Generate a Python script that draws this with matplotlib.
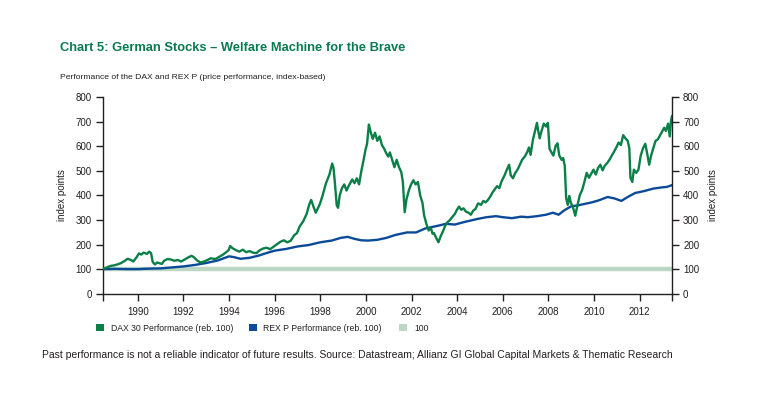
import matplotlib.pyplot as plt
from matplotlib.patches import Patch

plt.rcParams['font.family'] = ['Liberation Sans Narrow', 'Liberation Sans', 'DejaVu Sans']

# DAX 30 performance (rebased to 100)
dax_year = [1988.50, 1988.65, 1988.80, 1988.95, 1989.10, 1989.25, 1989.40, 1989.55, 1989.70, 1989.80,
            1989.95, 1990.05, 1990.15, 1990.25, 1990.40, 1990.50, 1990.58, 1990.65, 1990.75, 1990.85,
            1990.95, 1991.05, 1991.15, 1991.30, 1991.45, 1991.60, 1991.75, 1991.90, 1992.05, 1992.20,
            1992.35, 1992.45, 1992.60, 1992.75, 1992.90, 1993.05, 1993.20, 1993.40, 1993.55, 1993.70,
            1993.85, 1993.98, 1994.05, 1994.15, 1994.30, 1994.45, 1994.60, 1994.75, 1994.90, 1995.05,
            1995.20, 1995.35, 1995.50, 1995.65, 1995.80, 1995.95, 1996.10, 1996.25, 1996.40, 1996.55,
            1996.70, 1996.85, 1996.98, 1997.10, 1997.25, 1997.40, 1997.52, 1997.60, 1997.70, 1997.80,
            1997.90, 1997.98, 1998.10, 1998.25, 1998.40, 1998.52, 1998.58, 1998.65, 1998.72, 1998.78,
            1998.85, 1998.95, 1999.05, 1999.15, 1999.25, 1999.40, 1999.50, 1999.60, 1999.70, 1999.80,
            1999.90, 1999.98, 2000.05, 2000.13, 2000.20, 2000.30, 2000.40, 2000.50, 2000.60, 2000.70,
            2000.80, 2000.90, 2000.98, 2001.05, 2001.15, 2001.25, 2001.35, 2001.45, 2001.55, 2001.62,
            2001.70, 2001.78, 2001.88, 2001.98, 2002.08, 2002.18, 2002.28, 2002.38, 2002.48, 2002.55,
            2002.65, 2002.75, 2002.85, 2002.92, 2002.98, 2003.08, 2003.18, 2003.28, 2003.38, 2003.48,
            2003.58, 2003.68, 2003.78, 2003.90, 2003.98, 2004.08, 2004.18, 2004.28, 2004.38, 2004.50,
            2004.60, 2004.70, 2004.80, 2004.92, 2005.05, 2005.15, 2005.25, 2005.35, 2005.45, 2005.55,
            2005.65, 2005.75, 2005.85, 2005.95, 2006.08, 2006.18, 2006.28, 2006.35, 2006.45, 2006.55,
            2006.65, 2006.75, 2006.85, 2006.98, 2007.08, 2007.15, 2007.22, 2007.32, 2007.42, 2007.50,
            2007.55, 2007.62, 2007.70, 2007.80, 2007.90, 2007.98, 2008.05, 2008.12, 2008.22, 2008.32,
            2008.40, 2008.48, 2008.58, 2008.65, 2008.72, 2008.78, 2008.85, 2008.92, 2008.98, 2009.08,
            2009.18, 2009.28, 2009.38, 2009.48, 2009.58, 2009.68, 2009.78, 2009.90, 2009.98, 2010.08,
            2010.18, 2010.28, 2010.38, 2010.48, 2010.58, 2010.68, 2010.78, 2010.88, 2010.98, 2011.08,
            2011.18, 2011.28, 2011.38, 2011.48, 2011.55, 2011.60, 2011.68, 2011.75, 2011.85, 2011.95,
            2012.05, 2012.15, 2012.25, 2012.35, 2012.42, 2012.50, 2012.60, 2012.70, 2012.80, 2012.90,
            2012.98, 2013.08, 2013.15, 2013.25, 2013.32, 2013.38, 2013.42]
dax_val = [103, 108, 114, 116, 120, 125, 133, 143, 138, 132,
           150, 165, 160, 168, 163, 172, 166, 130, 120, 128,
           125, 122, 135, 142, 140, 135, 138, 132, 140, 148,
           155, 150, 136, 128, 132, 138, 145, 142, 150, 158,
           168, 178, 195, 186, 178, 172, 180, 170, 174, 168,
           166, 178, 185, 188, 182, 192, 202, 212, 218, 210,
           216, 238, 248, 275, 295, 325, 365, 382, 355, 330,
           350, 365, 400, 450, 485, 530, 512, 440, 360, 350,
           400, 430, 445, 420, 440, 465, 450, 470, 445, 500,
           545, 585, 610, 688, 660, 630, 655, 622, 640, 605,
           590, 570, 558, 575, 545, 515, 545, 515, 495, 455,
           332, 385, 420, 445, 462, 445, 455, 400, 370, 320,
           285, 258, 268, 245, 248, 228, 210, 235, 255, 278,
           292, 300, 312, 325, 340, 355, 342, 348, 335, 330,
           322, 338, 345, 368, 362, 378, 372, 382, 395, 412,
           425, 438, 430, 458, 482, 505, 525, 482, 470, 492,
           505, 525, 545, 560, 578, 595, 565, 625, 665, 695,
           665, 632, 662, 692, 680, 695, 590, 578, 562, 602,
           612, 562, 545, 552, 520, 390, 362, 398, 372, 352,
           318, 362, 402, 422, 455, 492, 472, 492, 505, 485,
           512, 525, 502, 522, 532, 545, 562, 578, 595, 615,
           605, 645, 632, 622, 592, 472, 455, 505, 492, 505,
           562, 592, 610, 562, 525, 560, 592, 622, 628, 645,
           658, 675, 662, 692, 640, 705, 722]

# REX P performance (rebased to 100)
rex_year = [1988.50, 1989.00, 1989.50, 1990.00, 1990.50, 1991.00, 1991.50, 1992.00, 1992.50, 1993.00,
            1993.50, 1994.00, 1994.20, 1994.50, 1994.90, 1995.30, 1995.70, 1996.00, 1996.50, 1997.00,
            1997.50, 1998.00, 1998.50, 1998.90, 1999.20, 1999.50, 1999.80, 2000.10, 2000.50, 2000.90,
            2001.30, 2001.80, 2002.20, 2002.60, 2003.20, 2003.50, 2003.90, 2004.30, 2004.90, 2005.30,
            2005.70, 2006.00, 2006.40, 2006.80, 2007.10, 2007.50, 2007.90, 2008.20, 2008.45, 2008.70,
            2009.00, 2009.30, 2009.60, 2009.90, 2010.20, 2010.60, 2010.90, 2011.20, 2011.50, 2011.80,
            2012.20, 2012.60, 2012.90, 2013.20, 2013.42]
rex_val = [101, 102, 101, 101, 103, 104, 108, 112, 118, 126,
           136, 153, 150, 143, 147, 156, 168, 176, 183, 193,
           199, 210, 217, 228, 232, 224, 218, 217, 220, 228,
           240, 250, 250, 266, 278, 285, 282, 292, 305, 312,
           316, 312, 308, 314, 312, 316, 322, 330, 322, 340,
           356, 360, 366, 372, 380, 394, 388, 378, 395, 410,
           418, 428, 432, 435, 442]

# reference line at 100
ref_year = [1988.47, 2013.42]
ref_val = [100, 100]

x_ticks = [1990, 1992, 1994, 1996, 1998, 2000, 2002, 2004, 2006, 2008, 2010, 2012]
y_ticks = [0, 100, 200, 300, 400, 500, 600, 700, 800]

GREEN = '#0b7f48'
BLUE = '#0a4a98'
LIGHT = '#bcd8c4'
TXT = '#231f20'

fig = plt.figure(figsize=(7.73, 3.93), dpi=100)
ax = fig.add_axes([0.1332, 0.2519, 0.7361, 0.5013])

ax.plot(ref_year, ref_val, color=LIGHT, lw=3.2, solid_capstyle='butt', zorder=1)
ax.plot(rex_year, rex_val, color=BLUE, lw=1.7, zorder=2)
ax.plot(dax_year, dax_val, color=GREEN, lw=1.7, zorder=3)

ax.set_xlim(1988.47, 2013.42)
ax.set_ylim(0, 800)
ax.set_xticks(x_ticks)
ax.set_xticks([1988.47, 2013.42], minor=True)
ax.set_yticks(y_ticks)
ax.tick_params(axis='x', which='both', direction='out', length=5, width=1, colors=TXT,
               labelsize=7, pad=4)
ax.tick_params(axis='y', direction='out', length=5, width=1, colors=TXT, labelsize=7, pad=3)
for s in ['top', 'right']:
    ax.spines[s].set_visible(False)
for s in ['left', 'bottom']:
    ax.spines[s].set_linewidth(1)
    ax.spines[s].set_color(TXT)
ax.set_ylabel('index points', fontsize=7, color=TXT, labelpad=6)

ax2 = ax.twinx()
ax2.set_ylim(0, 800)
ax2.set_yticks(y_ticks)
ax2.tick_params(axis='y', direction='out', length=5, width=1, colors=TXT, labelsize=7, pad=3)
for s in ['top', 'left', 'bottom']:
    ax2.spines[s].set_visible(False)
ax2.spines['right'].set_linewidth(1)
ax2.spines['right'].set_color(TXT)
ax2.set_ylabel('index points', fontsize=7, color=TXT, labelpad=6)

fig.text(0.0776, 0.878, 'Chart 5: German Stocks \u2013 Welfare Machine for the Brave',
         fontsize=9.3, fontweight='bold', color='#0a7a50', va='center')
fig.text(0.0776, 0.802, 'Performance of the DAX and REX P (price performance, index-based)',
         fontsize=6.1, color=TXT, va='center')
fig.text(0.0543, 0.097, 'Past performance is not a reliable indicator of future results. '
         'Source: Datastream; Allianz GI Global Capital Markets & Thematic Research',
         fontsize=7.5, color=TXT, va='center')

items = [(GREEN, 'DAX 30 Performance (reb. 100)', 0.1245),
         (BLUE, 'REX P Performance (reb. 100)', 0.3215),
         (LIGHT, '100', 0.5165)]
for col, lab, xpos in items:
    fig.legend(handles=[Patch(facecolor=col, edgecolor='none', label=lab)],
               loc='center left', bbox_to_anchor=(xpos, 0.165), frameon=False,
               fontsize=6.2, handlelength=0.95, handleheight=0.95, handletextpad=0.75,
               borderaxespad=0, borderpad=0, labelcolor=TXT)

fig.savefig('out.png', dpi=100)
